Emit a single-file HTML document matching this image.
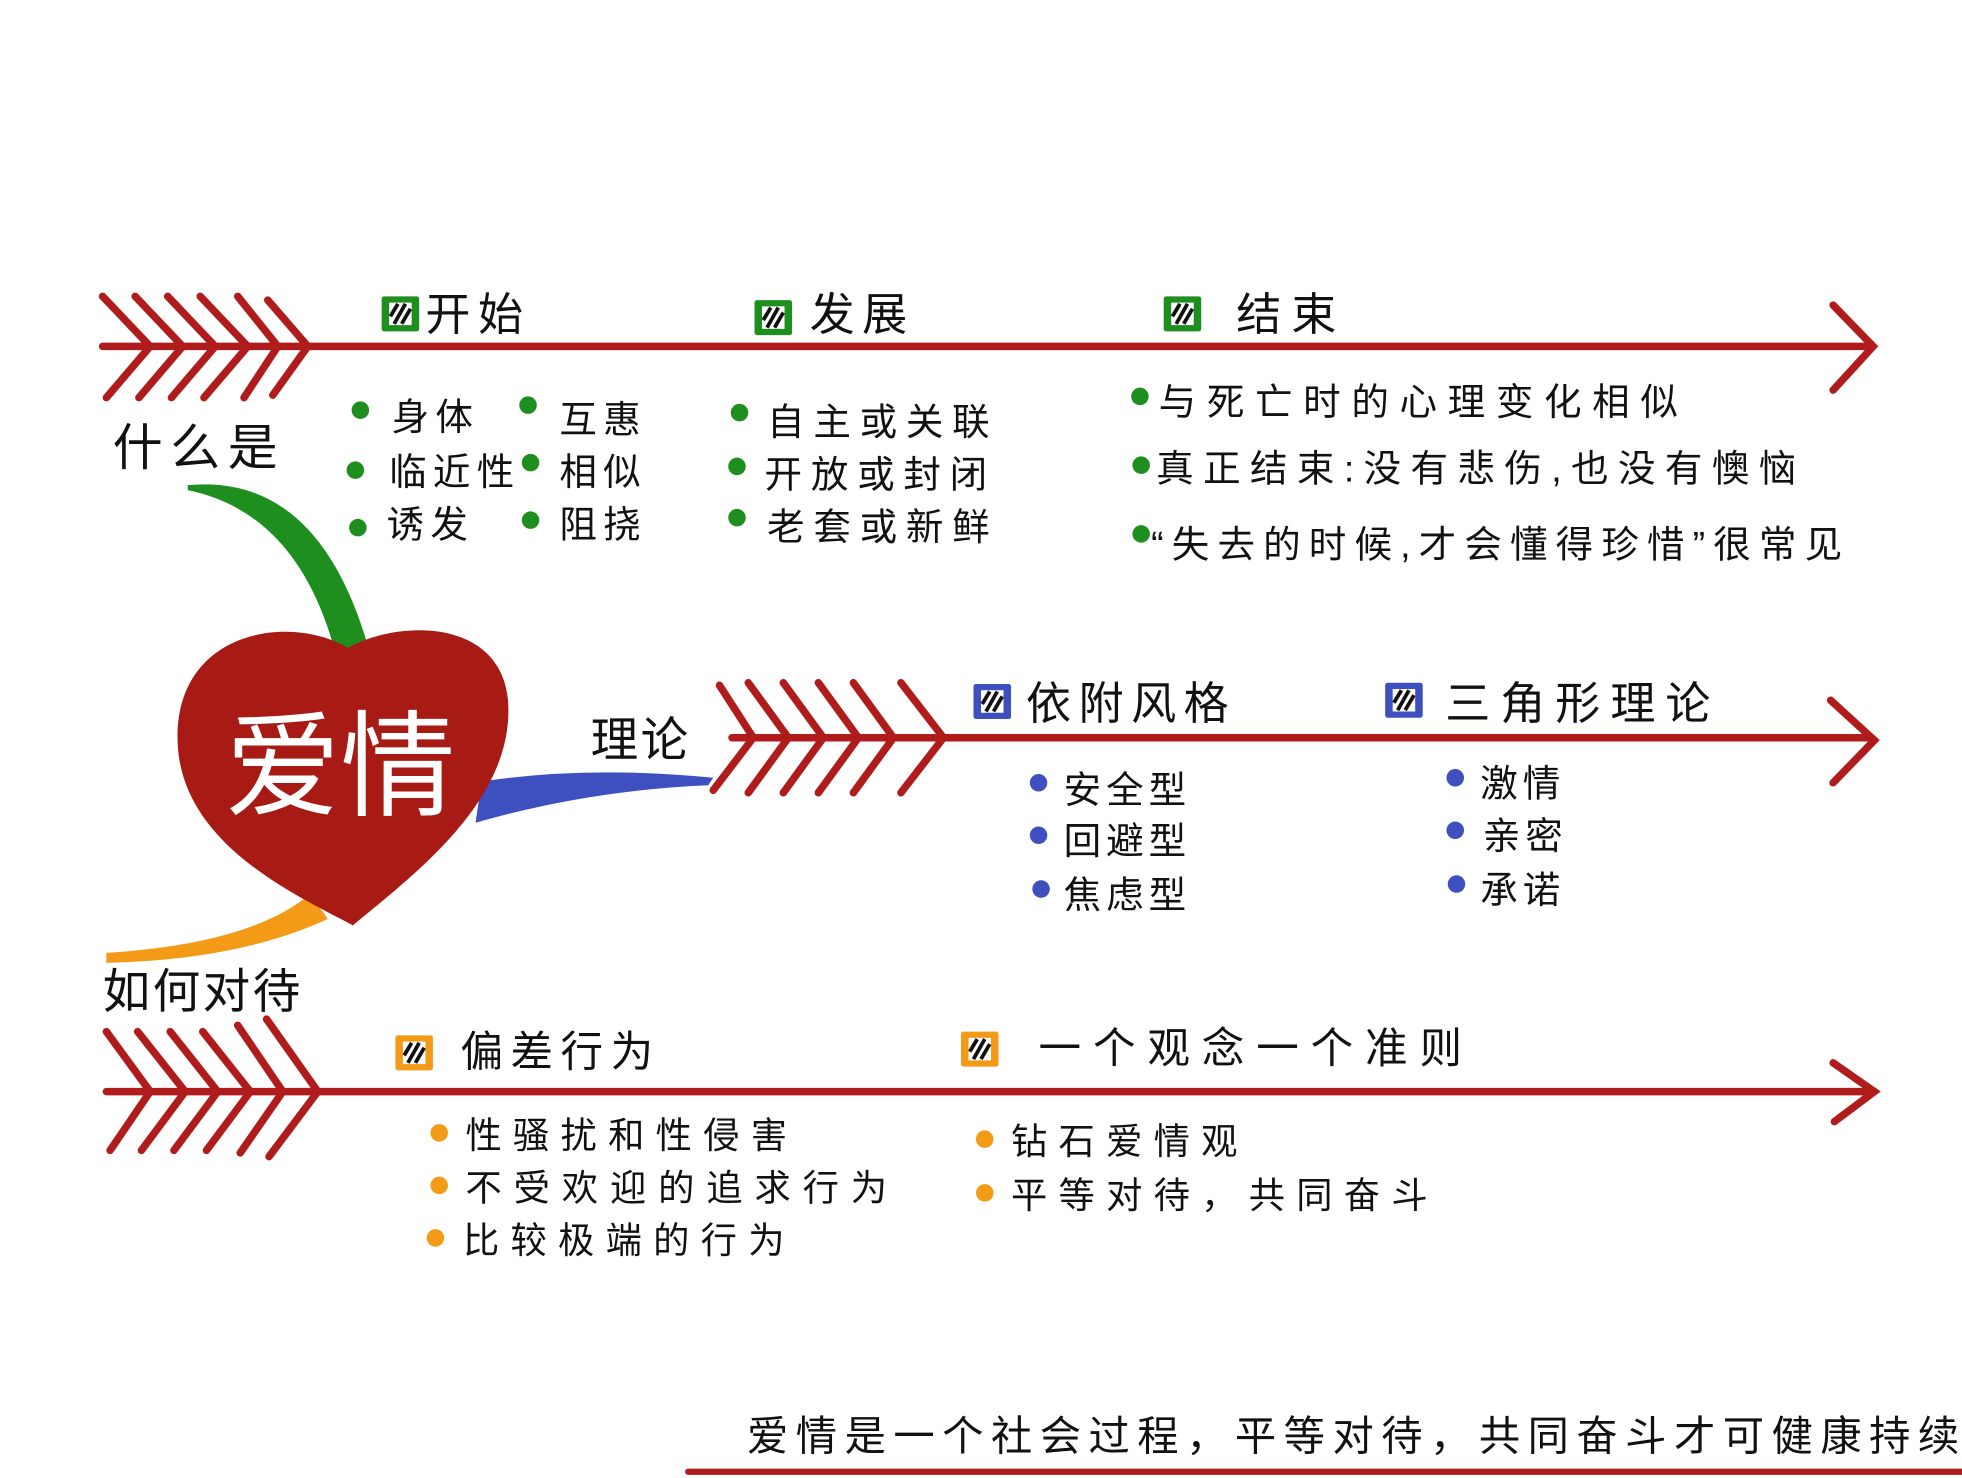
<!DOCTYPE html>
<html><head><meta charset="utf-8"><style>
html,body{margin:0;padding:0;background:#fff;}
svg{display:block;}
text{font-family:"Liberation Sans","Noto Sans CJK SC","WenQuanYi Zen Hei",sans-serif;fill:#111;}
</style></head><body>
<svg width="1962" height="1478" viewBox="0 0 1568 1182" preserveAspectRatio="none" xmlns="http://www.w3.org/2000/svg">
<defs>
<g id="chk">
<rect x="0" y="0" width="30" height="28" rx="2"/>
<rect x="6" y="5" width="18" height="18" fill="#fff"/>
<path d="M7 16 L13 6 M10 22 L19 6 M16 22 L23 10" stroke="#111" stroke-width="3"/>
</g>
</defs>
<g stroke="#b01c1c" stroke-width="6" fill="none" stroke-linecap="round">
<line x1="82" y1="277" x2="1495" y2="277"/>
<polyline points="1465,244 1497,277 1465,312"/>
<polyline points="82,237 120,277 85,318"/>
<polyline points="108,237 146,277 111,318"/>
<polyline points="134,237 172,277 137,318"/>
<polyline points="160,237 198,277 163,318"/>
<polyline points="190,237 222,277 195,318"/>
<polyline points="214,240 246,277 218,316"/>
<line x1="585" y1="590" x2="1495" y2="590"/>
<polyline points="1463,560 1498,592 1465,626"/>
<polyline points="575,548 602,590 570,632"/>
<polyline points="598,546 630,590 598,634"/>
<polyline points="626,546 658,590 626,634"/>
<polyline points="654,546 686,590 654,634"/>
<polyline points="682,546 714,590 682,634"/>
<polyline points="720,546 754,590 720,634"/>
<line x1="85" y1="873" x2="1495" y2="873"/>
<polyline points="1465,850 1498,873 1466,897"/>
<polyline points="85,825 120,873 88,920"/>
<polyline points="110,825 148,873 113,920"/>
<polyline points="136,825 174,873 139,920"/>
<polyline points="162,825 200,873 165,920"/>
<polyline points="190,820 226,873 192,922"/>
<polyline points="213,815 254,873 215,925"/>
<line x1="550" y1="1177" x2="1568" y2="1177" stroke-width="5"/>
</g>
<path d="M150 388 Q 255 378 295 520 L 268 522 Q 238 410 150 392 Z" fill="#1e8f1e"/>
<path d="M385 625 Q 470 612 570 622 L 566 628 Q 470 632 380 658 Z" fill="#3e4fc0"/>
<path d="M85 762 Q 200 755 248 715 L 262 735 Q 190 768 85 770 Z" fill="#f39a16"/>
<path d="M278 518 C 230 490, 138 505, 142 595 C 146 675, 235 715, 282 740 C 330 700, 412 640, 406 560 C 400 495, 320 495, 278 518 Z" fill="#a81a14"/>
<text x="272" y="645" font-size="92" text-anchor="middle" style="fill:#fff">爱情</text>
<text x="90" y="372" font-size="40" letter-spacing="6">什么是</text>
<text x="472" y="605" font-size="38" letter-spacing="2">理论</text>
<text x="82" y="806" font-size="38" letter-spacing="2">如何对待</text>
<use href="#chk" x="305" y="237" fill="#1e8f1e"/>
<text x="340" y="264" font-size="36" letter-spacing="6">开始</text>
<use href="#chk" x="603" y="240" fill="#1e8f1e"/>
<text x="647" y="264" font-size="36" letter-spacing="6">发展</text>
<use href="#chk" x="930" y="237" fill="#1e8f1e"/>
<text x="988" y="264" font-size="36" letter-spacing="8">结束</text>
<use href="#chk" x="778" y="547" fill="#3e4fc0"/>
<text x="820" y="575" font-size="36" letter-spacing="6">依附风格</text>
<use href="#chk" x="1107" y="546" fill="#3e4fc0"/>
<text x="1155" y="575" font-size="36" letter-spacing="8">三角形理论</text>
<use href="#chk" x="316" y="828" fill="#f39a16"/>
<text x="368" y="853" font-size="34" letter-spacing="6">偏差行为</text>
<use href="#chk" x="768" y="825" fill="#f39a16"/>
<text x="830" y="850" font-size="34" letter-spacing="9.5">一个观念一个准则</text>
<g fill="#1e8f1e">
<circle cx="288" cy="328" r="7"/><circle cx="284" cy="376" r="7"/><circle cx="286" cy="422" r="7"/>
<circle cx="422" cy="324" r="7"/><circle cx="424" cy="370" r="7"/><circle cx="424" cy="416" r="7"/>
<circle cx="591" cy="330" r="7"/><circle cx="589" cy="373" r="7"/><circle cx="589" cy="414" r="7"/>
<circle cx="911" cy="317" r="7"/><circle cx="912" cy="372" r="7"/><circle cx="912" cy="427" r="7"/>
</g>
<g fill="#3e4fc0">
<circle cx="830" cy="626" r="7"/><circle cx="830" cy="668" r="7"/><circle cx="832" cy="711" r="7"/>
<circle cx="1163" cy="622" r="7"/><circle cx="1163" cy="664" r="7"/><circle cx="1164" cy="707" r="7"/>
</g>
<g fill="#f39a16">
<circle cx="351" cy="906" r="7"/><circle cx="351" cy="948" r="7"/><circle cx="348" cy="990" r="7"/>
<circle cx="787" cy="911" r="7"/><circle cx="787" cy="954" r="7"/>
</g>
<g font-size="30" letter-spacing="5">
<text x="313" y="344">身体</text>
<text x="311" y="388">临近性</text>
<text x="309" y="430">诱发</text>
<text x="447" y="346">互惠</text>
<text x="447" y="388">相似</text>
<text x="447" y="430">阻挠</text>
<text x="613" y="348" letter-spacing="7">自主或关联</text>
<text x="611" y="390" letter-spacing="7">开放或封闭</text>
<text x="613" y="432" letter-spacing="7">老套或新鲜</text>
<text x="926" y="332" letter-spacing="8.5">与死亡时的心理变化相似</text>
<text x="924" y="385" letter-spacing="7.5">真正结束:没有悲伤,也没有懊恼</text>
<text x="920" y="446" letter-spacing="6.5">“失去的时候,才会懂得珍惜”很常见</text>
<text x="850" y="642" letter-spacing="4">安全型</text>
<text x="850" y="683" letter-spacing="4">回避型</text>
<text x="850" y="726" letter-spacing="4">焦虑型</text>
<text x="1183" y="637" letter-spacing="4">激情</text>
<text x="1185" y="679" letter-spacing="4">亲密</text>
<text x="1183" y="722" letter-spacing="4">承诺</text>
<text x="372" y="918" font-size="29" letter-spacing="9">性骚扰和性侵害</text>
<text x="372" y="960" font-size="29" letter-spacing="9.5">不受欢迎的追求行为</text>
<text x="370" y="1002" font-size="29" letter-spacing="9">比较极端的行为</text>
<text x="808" y="923" font-size="29" letter-spacing="9">钻石爱情观</text>
<text x="808" y="966" font-size="29" letter-spacing="9">平等对待，共同奋斗</text>
</g>
<text x="597" y="1160" font-size="33" letter-spacing="6">爱情是一个社会过程，平等对待，共同奋斗才可健康持续</text>
</svg>
</body></html>
